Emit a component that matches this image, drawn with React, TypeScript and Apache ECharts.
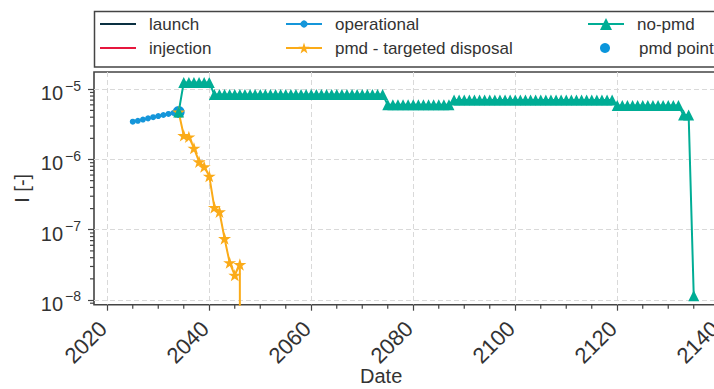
import React, { useEffect, useRef } from "react";
import * as echarts from "echarts";

const FONT = '"Liberation Sans", Arial, Helvetica, sans-serif';
const TEXT = "#333333";
const SPINE = "#444444";

const C = {
  launch: "#0a3041",
  injection: "#e6173d",
  operational: "#1596da",
  pmd: "#fbab18",
  noPmd: "#00ad95",
  pmdPoint: "#0a95db",
};

// ---- axes ----
const X_MIN = 2017.4;
const X_MAX = 2140.6;
const Y_MIN = 8.57e-9;
const Y_MAX = 1.76e-5;
const xTickValues = [2020, 2040, 2060, 2080, 2100, 2120, 2140];
const xMinorTickValues = [
  2025, 2030, 2035, 2045, 2050, 2055, 2065, 2070, 2075, 2085, 2090, 2095,
  2105, 2110, 2115, 2125, 2130, 2135,
];
const yTickExponents = [-8, -7, -6, -5];
const yMinorTickValues = [
  9e-9,
  2e-8, 3e-8, 4e-8, 5e-8, 6e-8, 7e-8, 8e-8, 9e-8,
  2e-7, 3e-7, 4e-7, 5e-7, 6e-7, 7e-7, 8e-7, 9e-7,
  2e-6, 3e-6, 4e-6, 5e-6, 6e-6, 7e-6, 8e-6, 9e-6,
];

// ---- data ----
const launchYears: number[] = [];
const launchValues: number[] = [];
const injectionYears: number[] = [];
const injectionValues: number[] = [];

const operationalYears = [2025, 2026, 2027, 2028, 2029, 2030, 2031, 2032, 2033, 2034];
const operationalValues = [3.45e-6, 3.55e-6, 3.7e-6, 3.85e-6, 4.0e-6, 4.15e-6, 4.3e-6, 4.45e-6, 4.6e-6, 4.75e-6];

const pmdYears = [2034, 2035, 2036, 2037, 2038, 2039, 2040, 2041, 2042, 2043, 2044, 2045, 2046, 2047];
const pmdValues = [4.75e-6, 2.2e-6, 2.1e-6, 1.45e-6, 9.3e-7, 7.9e-7, 5.8e-7, 2.08e-7, 1.8e-7, 7.5e-8, 3.4e-8, 2.26e-8, 3.2e-8, 0];

const noPmdYears = [
  2034, 2035, 2036, 2037, 2038, 2039, 2040, 2041, 2042, 2043, 2044, 2045, 2046, 2047, 2048, 2049,
  2050, 2051, 2052, 2053, 2054, 2055, 2056, 2057, 2058, 2059, 2060, 2061, 2062, 2063, 2064, 2065,
  2066, 2067, 2068, 2069, 2070, 2071, 2072, 2073, 2074, 2075, 2076, 2077, 2078, 2079, 2080, 2081,
  2082, 2083, 2084, 2085, 2086, 2087, 2088, 2089, 2090, 2091, 2092, 2093, 2094, 2095, 2096, 2097,
  2098, 2099, 2100, 2101, 2102, 2103, 2104, 2105, 2106, 2107, 2108, 2109, 2110, 2111, 2112, 2113,
  2114, 2115, 2116, 2117, 2118, 2119, 2120, 2121, 2122, 2123, 2124, 2125, 2126, 2127, 2128, 2129,
  2130, 2131, 2132, 2133, 2134, 2135,
];
const noPmdValues = [
  4.75e-6,
  1.25e-5, 1.25e-5, 1.25e-5, 1.25e-5, 1.25e-5, 1.25e-5,
  8.4e-6, 8.4e-6, 8.4e-6, 8.4e-6, 8.4e-6, 8.4e-6, 8.4e-6, 8.4e-6, 8.4e-6, 8.4e-6,
  8.4e-6, 8.4e-6, 8.4e-6, 8.4e-6, 8.4e-6, 8.4e-6, 8.4e-6, 8.4e-6, 8.4e-6, 8.4e-6,
  8.4e-6, 8.4e-6, 8.4e-6, 8.4e-6, 8.4e-6, 8.4e-6, 8.4e-6, 8.4e-6, 8.4e-6, 8.4e-6,
  8.4e-6, 8.4e-6, 8.4e-6, 8.4e-6,
  6.0e-6, 6.0e-6, 6.0e-6, 6.0e-6, 6.0e-6, 6.0e-6, 6.0e-6, 6.0e-6, 6.0e-6, 6.0e-6,
  6.0e-6, 6.0e-6, 6.0e-6,
  7.05e-6, 7.05e-6, 7.05e-6, 7.05e-6, 7.05e-6, 7.05e-6, 7.05e-6, 7.05e-6,
  7.05e-6, 7.05e-6, 7.05e-6, 7.05e-6, 7.05e-6, 7.05e-6, 7.05e-6, 7.05e-6,
  7.05e-6, 7.05e-6, 7.05e-6, 7.05e-6, 7.05e-6, 7.05e-6, 7.05e-6, 7.05e-6,
  7.05e-6, 7.05e-6, 7.05e-6, 7.05e-6, 7.05e-6, 7.05e-6, 7.05e-6, 7.05e-6,
  5.85e-6, 5.85e-6, 5.85e-6, 5.85e-6, 5.85e-6, 5.85e-6, 5.85e-6, 5.85e-6,
  5.85e-6, 5.85e-6, 5.85e-6, 5.85e-6, 5.85e-6,
  4.3e-6, 4.3e-6, 1.15e-8,
];

const pmdPointYears = [2034];
const pmdPointValues = [4.75e-6];

// ---- helpers ----
const lg = (v: number) => (v > 0 ? Math.log10(v) : -300);
const pairs = (xs: number[], vs: number[]) => xs.map((x, i) => [x, lg(vs[i])]);

const STAR =
  "path://M0,-10L2.245,-3.09L9.511,-3.09L3.633,1.18L5.878,8.09L0,3.82L-5.878,8.09L-3.633,1.18L-9.511,-3.09L-2.245,-3.09Z";
const LINE_ICON = "path://M0,0H36V2.2H0Z";

export default function App() {
  const ref = useRef<HTMLDivElement>(null);

  useEffect(() => {
    if (!ref.current) return;
    const chart = echarts.init(ref.current, null, { renderer: "svg" });
    const yLo = lg(Y_MIN);
    const yHi = lg(Y_MAX);

    const legendBase: any = {
      orient: "vertical",
      padding: 0,
      itemWidth: 36,
      selectedMode: false,
      textStyle: { fontSize: 17, fontFamily: FONT, color: TEXT, lineHeight: 18, padding: [0, 0, 0, 8] },
    };
    const row1 = 24 - 9;
    const row2 = 48 - 9;

    const tickStyle = { stroke: SPINE, lineWidth: 1.2 };

    const option: any = {
      animation: false,
      backgroundColor: "#ffffff",
      textStyle: { fontFamily: FONT },
      grid: {
        left: 94,
        top: 72,
        width: 628.3,
        height: 232.7,
        show: true,
        borderColor: SPINE,
        borderWidth: 1.6,
        backgroundColor: "transparent",
        containLabel: false,
        outerBoundsMode: "none",
      },
      graphic: [
        {
          type: "rect",
          silent: true,
          z: 0,
          shape: { x: 94.5, y: 11.5, width: 628, height: 55.5 },
          style: { fill: "none", stroke: SPINE, lineWidth: 1.5 },
        },
      ],
      legend: [
        { ...legendBase, left: 100, top: row1, itemHeight: 10, data: [{ name: "launch", icon: LINE_ICON }] },
        { ...legendBase, left: 100, top: row2, itemHeight: 10, data: [{ name: "injection", icon: LINE_ICON }] },
        { ...legendBase, left: 285, top: row1, itemHeight: 9, data: ["operational"] },
        { ...legendBase, left: 285, top: row2, itemHeight: 14, data: ["pmd - targeted disposal"] },
        { ...legendBase, left: 587, top: row1, itemHeight: 15, data: ["no-pmd"] },
        {
          ...legendBase,
          left: 600,
          top: row2,
          itemHeight: 10,
          textStyle: { ...legendBase.textStyle, padding: [0, 0, 0, 11] },
          data: ["pmd point"],
        },
      ],
      xAxis: {
        type: "value",
        min: X_MIN,
        max: X_MAX,
        splitNumber: 5,
        axisLine: { show: false },
        axisTick: {
          show: true,
          length: 6,
          customValues: xTickValues,
          lineStyle: { color: SPINE, width: 1.2 },
        },
        axisLabel: {
          customValues: xTickValues,
          rotate: 45,
          margin: 16,
          padding: [0, 6, 0, 0],
          fontSize: 22,
          fontFamily: FONT,
          color: TEXT,
          formatter: (v: number) => String(Math.round(v)),
        },
        splitLine: { show: true, lineStyle: { color: "#d9d9d9", type: [5, 3], width: 1 } },
        name: "Date",
        nameLocation: "middle",
        nameGap: 61,
        nameMoveOverlap: false,
        nameTextStyle: { fontSize: 20, fontFamily: FONT, color: TEXT, padding: [0, 54, 0, 0] },
      },
      yAxis: {
        type: "value",
        min: yLo,
        max: yHi,
        splitNumber: 3,
        axisLine: { show: false },
        axisTick: {
          show: true,
          length: 6,
          customValues: yTickExponents,
          lineStyle: { color: SPINE, width: 1.2 },
        },
        axisLabel: {
          customValues: yTickExponents,
          margin: 13,
          color: TEXT,
          fontFamily: FONT,
          formatter: (v: number) => `{b|10}{s|\u2212${Math.abs(Math.round(v))}}`,
          rich: {
            b: { fontSize: 20, fontFamily: FONT, color: TEXT, lineHeight: 21, padding: [8, 0, 0, 0] },
            s: { fontSize: 14, fontFamily: FONT, color: TEXT, lineHeight: 16, verticalAlign: "top", padding: [0, 0, 0, 2] },
          },
        },
        splitLine: { show: true, lineStyle: { color: "#d9d9d9", type: [5, 3], width: 1 } },
        name: "I [-]",
        nameLocation: "middle",
        nameGap: 62,
        nameMoveOverlap: false,
        nameRotate: 90,
        nameTextStyle: { fontSize: 20, fontFamily: FONT, color: TEXT },
      },
      series: [
        {
          name: "launch",
          type: "line",
          color: C.launch,
          data: pairs(launchYears, launchValues),
          symbol: "none",
          lineStyle: { color: C.launch, width: 2 },
          itemStyle: { color: C.launch },
          silent: true,
        },
        {
          name: "injection",
          type: "line",
          color: C.injection,
          data: pairs(injectionYears, injectionValues),
          symbol: "none",
          lineStyle: { color: C.injection, width: 2 },
          itemStyle: { color: C.injection },
          silent: true,
        },
        {
          name: "pmd point",
          type: "scatter",
          z: 1,
          color: C.pmdPoint,
          data: pairs(pmdPointYears, pmdPointValues),
          symbol: "circle",
          symbolSize: 12,
          itemStyle: { color: C.pmdPoint, opacity: 1 },
          silent: true,
        },
        {
          name: "operational",
          type: "line",
          z: 2,
          color: C.operational,
          data: pairs(operationalYears, operationalValues),
          symbol: "circle",
          symbolSize: 6,
          showSymbol: true,
          lineStyle: { color: C.operational, width: 2 },
          itemStyle: { color: C.operational, borderWidth: 0 },
          silent: true,
        },
        {
          name: "pmd - targeted disposal",
          type: "line",
          z: 2,
          color: C.pmd,
          data: pairs(pmdYears, pmdValues),
          symbol: STAR,
          symbolSize: 13,
          symbolKeepAspect: true,
          showSymbol: true,
          lineStyle: { color: C.pmd, width: 2 },
          itemStyle: { color: C.pmd, borderWidth: 0 },
          silent: true,
        },
        {
          name: "no-pmd",
          type: "line",
          z: 2,
          color: C.noPmd,
          data: pairs(noPmdYears, noPmdValues),
          symbol: "triangle",
          symbolSize: 11,
          showSymbol: true,
          lineStyle: { color: C.noPmd, width: 2 },
          itemStyle: { color: C.noPmd, borderWidth: 0 },
          silent: true,
        },
        {
          name: "x minor ticks",
          type: "custom",
          clip: false,
          silent: true,
          z: 5,
          data: xMinorTickValues.map((v) => [v, yLo]),
          renderItem: (params: any, api: any) => {
            const p = api.coord([api.value(0), api.value(1)]);
            return { type: "line", shape: { x1: p[0], y1: p[1], x2: p[0], y2: p[1] + 4 }, style: tickStyle };
          },
        },
        {
          name: "y minor ticks",
          type: "custom",
          clip: false,
          silent: true,
          z: 5,
          data: yMinorTickValues.map((v) => [X_MIN, lg(v)]),
          renderItem: (params: any, api: any) => {
            const p = api.coord([api.value(0), api.value(1)]);
            return { type: "line", shape: { x1: p[0] - 4, y1: p[1], x2: p[0], y2: p[1] }, style: tickStyle };
          },
        },
      ],
    };

    chart.setOption(option);
    return () => chart.dispose();
  }, []);

  return (
    <div
      style={{
        position: "fixed",
        left: 0,
        top: 0,
        width: 714,
        height: 389,
        overflow: "hidden",
        background: "#ffffff",
      }}
    >
      <div ref={ref} style={{ width: 740, height: 389 }} />
    </div>
  );
}
